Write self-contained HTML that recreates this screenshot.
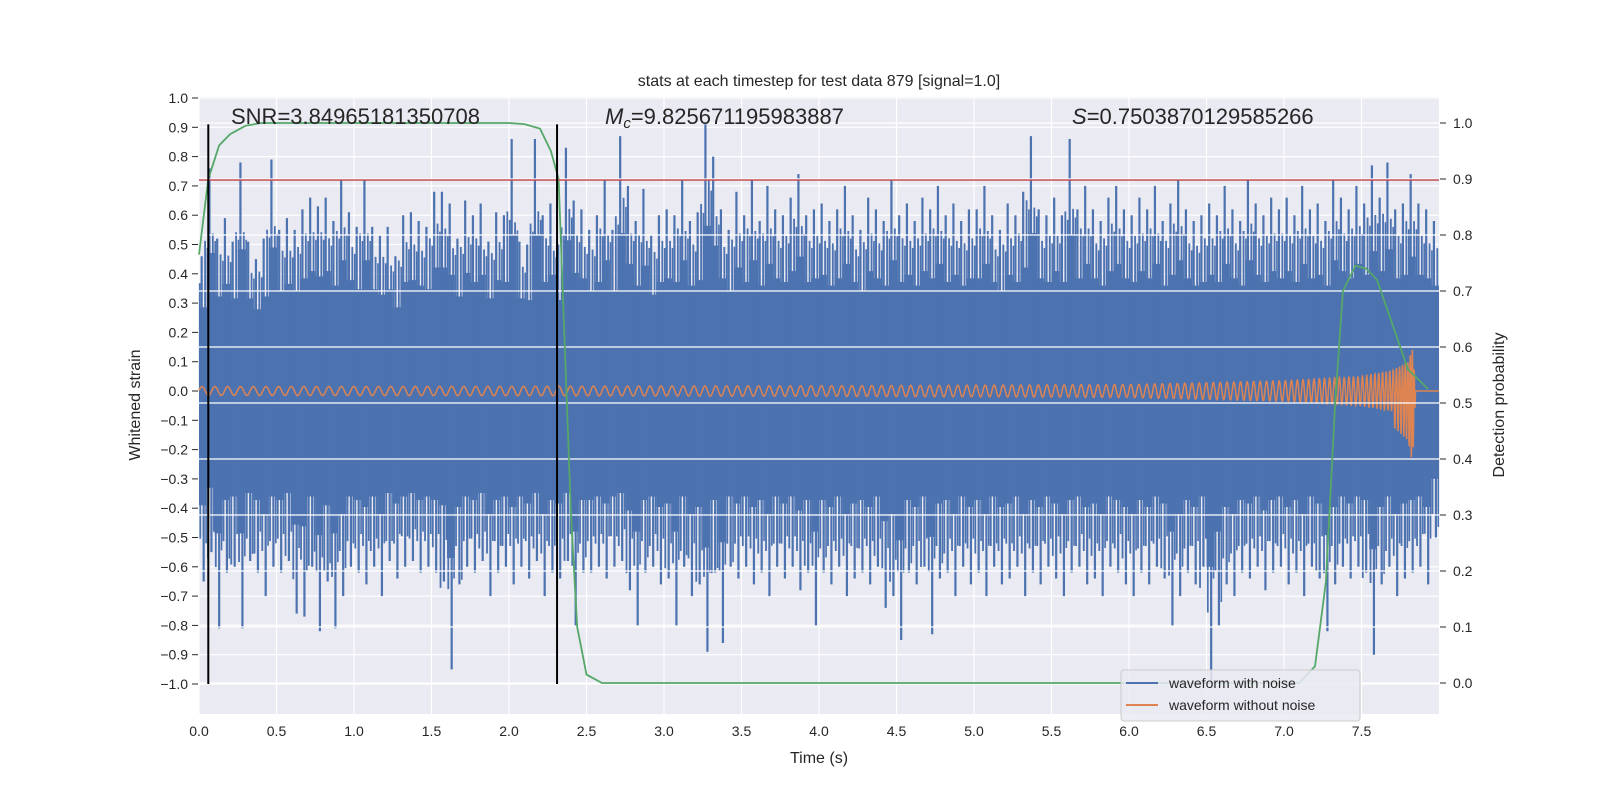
<!DOCTYPE html>
<html><head><meta charset="utf-8"><style>
body{margin:0;background:#fff;}
svg text{font-family:"Liberation Sans","DejaVu Sans",sans-serif;fill:#262626;}
</style></head><body>
<svg id="chart" width="1600" height="800" viewBox="0 0 1600 800" xmlns="http://www.w3.org/2000/svg">
<rect x="199" y="97" width="1240" height="617" fill="#eaeaf2"/>
<g id="gridL"></g><g id="gridX"></g>
<g id="blue"></g><g id="orange"></g><g id="gridR"></g>
<g id="green"></g><g id="extras"></g><g id="ticks"></g>
<text x="819" y="86" text-anchor="middle" font-size="16">stats at each timestep for test data 879 [signal=1.0]</text>
<text x="231" y="124" font-size="22">SNR=3.84965181350708</text>
<text x="605" y="124" font-size="22"><tspan font-style="italic">M</tspan><tspan font-style="italic" font-size="15" dy="4">c</tspan><tspan dy="-4">=9.825671195983887</tspan></text>
<text x="1072" y="124" font-size="22"><tspan font-style="italic">S</tspan>=0.7503870129585266</text>
<text x="819" y="763" text-anchor="middle" font-size="16">Time (s)</text>
<text transform="translate(140,405) rotate(-90)" text-anchor="middle" font-size="16">Whitened strain</text>
<text transform="translate(1504,405) rotate(-90)" text-anchor="middle" font-size="16">Detection probability</text>
<g>
<rect x="1121" y="670" width="239" height="51" rx="3" fill="#eaeaf2" fill-opacity="0.85" stroke="#cccccc"/>
<line x1="1126" y1="683" x2="1158" y2="683" stroke="#4c72b0" stroke-width="2"/>
<text x="1169" y="688" font-size="14">waveform with noise</text>
<line x1="1126" y1="705" x2="1158" y2="705" stroke="#dd8452" stroke-width="2"/>
<text x="1169" y="710" font-size="14">waveform without noise</text>
</g>
</svg>
<script>
const upperPeaks=[.46,.76,.52,.59,.51,.78,.51,.45,.52,.79, .55,.59,.55,.62,.66,.63,.66,.58,.72,.61, .56,.72,.56,.53,.56,.46,.6,.61,.58,.56, .68,.68,.64,.52,.65,.6,.64,.51,.61,.6, .86,.51,.5,.86,.6,.64,.5,.83,.65,.62, .55,.6,.72,.55,.87,.7,.58,.69,.53,.6, .62,.6,.72,.58,.61,.91,.8,.62,.55,.68, .6,.72,.58,.7,.62,.6,.66,.74,.6,.62, .64,.58,.62,.7,.6,.55,.66,.62,.58,.72, .6,.64,.58,.66,.62,.7,.6,.64,.58,.62, .62,.7,.6,.55,.64,.6,.68,.87,.62,.6, .66,.6,.86,.62,.7,.62,.58,.66,.7,.62, .6,.66,.62,.7,.58,.64,.72,.62,.58,.6, .64,.6,.7,.62,.58,.72,.64,.6,.66,.62, .66,.6,.7,.62,.64,.58,.72,.66,.62,.7, .64,.77,.66,.78,.62,.64,.74,.64,.62,.58];
const lowerPeaks=[-.65,-.55,-.81,-.62,-.6,-.81,-.58,-.62,-.7,-.6, -.62,-.58,-.76,-.77,-.6,-.82,-.65,-.81,-.7,-.6, -.62,-.66,-.6,-.7,-.58,-.64,-.6,-.58,-.62,-.6, -.62,-.65,-.95,-.66,-.6,-.62,-.58,-.7,-.62,-.6, -.66,-.6,-.64,-.58,-.7,-.62,-.64,-.58,-.8,-.62, -.62,-.6,-.64,-.6,-.58,-.68,-.8,-.62,-.6,-.66, -.64,-.8,-.6,-.7,-.66,-.89,-.62,-.86,-.6,-.64, -.6,-.66,-.62,-.7,-.6,-.64,-.6,-.68,-.62,-.8, -.62,-.66,-.6,-.7,-.64,-.62,-.66,-.6,-.74,-.7, -.85,-.62,-.66,-.6,-.83,-.64,-.62,-.7,-.6,-.66, -.62,-.7,-.6,-.66,-.64,-.6,-.7,-.62,-.66,-.6, -.64,-.7,-.62,-.6,-.66,-.64,-.7,-.6,-.62,-.66, -.7,-.62,-.66,-.6,-.64,-.8,-.7,-.62,-.66,-.6, -1.0,-.8,-.66,-.7,-.62,-.64,-.6,-.68,-.62,-.6, -.66,-.62,-.7,-.6,-.64,-.82,-.66,-.6,-.64,-.6, -.62,-.9,-.66,-.6,-.7,-.64,-.62,-.6,-.66,-.5];
const binWidth=0.05;
const chirpTimes=[0,2,4,6,7,7.5,7.7,7.8,7.83,7.85];
const chirpAmp=[0.015,0.016,0.018,0.022,0.035,0.05,0.07,0.1,0.15,0.0];
const chirpFreq=[12,13,15,19,25,35,45,60,80,90];
const probTimes=[0,0.06,0.13,0.2,0.3,0.4,2.0,2.1,2.2,2.27,2.32,2.36,2.4,2.44,2.5,2.6,7.1,7.2,7.27,7.33,7.38,7.46,7.53,7.6,7.7,7.8,7.93];
const probValues=[0.765,0.9,0.96,0.98,0.995,1.0,1.0,0.998,0.99,0.95,0.9,0.6,0.3,0.1,0.015,0.0,0.0,0.03,0.18,0.5,0.7,0.745,0.74,0.72,0.64,0.56,0.525];
const threshold=0.72;
const markerTimes=[0.06,2.31];
const xTicks=[0,0.5,1,1.5,2,2.5,3,3.5,4,4.5,5,5.5,6,6.5,7,7.5];
const yTicksL=[1,0.9,0.8,0.7,0.6,0.5,0.4,0.3,0.2,0.1,0,-0.1,-0.2,-0.3,-0.4,-0.5,-0.6,-0.7,-0.8,-0.9,-1];
const yTicksR=[1,0.9,0.8,0.7,0.6,0.5,0.4,0.3,0.2,0.1,0];

const NS='http://www.w3.org/2000/svg';
const X=t=>199+t*155;
const YL=v=>391-v*293;
const YR=p=>683-p*560;
function mk(tag,attrs,parent){const e=document.createElementNS(NS,tag);for(const k in attrs)e.setAttribute(k,attrs[k]);document.getElementById(parent).appendChild(e);return e;}
function interp(xs,ys,x){if(x<=xs[0])return ys[0];for(let i=1;i<xs.length;i++){if(x<=xs[i]){const f=(x-xs[i-1])/(xs[i]-xs[i-1]);return ys[i-1]+f*(ys[i]-ys[i-1]);}}return ys[ys.length-1];}

yTicksL.forEach(v=>{const l=mk('line',{x1:199,x2:1439,y1:YL(v),y2:YL(v),stroke:'#fff','stroke-width':1.2},'gridL');


const tk=mk('line',{x1:192,x2:198,y1:YL(v),y2:YL(v),stroke:'#262626','stroke-width':1},'ticks');


const t=mk('text',{x:188,y:YL(v)+5,'text-anchor':'end','font-size':14},'ticks');t.textContent=(v<0?'\u2212':'')+Math.abs(v).toFixed(1);

});
xTicks.forEach(v=>{const l=mk('line',{x1:X(v),x2:X(v),y1:97,y2:714,stroke:'#fff','stroke-width':1.2},'gridX');


const t=mk('text',{x:X(v),y:736,'text-anchor':'middle','font-size':14},'ticks');t.textContent=v.toFixed(1);

});
yTicksR.forEach(p=>{const l=mk('line',{x1:199,x2:1439,y1:YR(p),y2:YR(p),stroke:'#fff','stroke-width':1.2},'gridR');


const tk=mk('line',{x1:1440,x2:1446,y1:YR(p),y2:YR(p),stroke:'#262626','stroke-width':1},'ticks');


const t=mk('text',{x:1453,y:YR(p)+5,'font-size':14},'ticks');t.textContent=p.toFixed(1);

});

// noisy waveform: core band + per-bin peaks
const n=upperPeaks.length;
let up='',lo='';
upperPeaks.forEach((u,i)=>{const x0=X(i*binWidth),x1=X((i+1)*binWidth);up+=`L${x0},${YL(u*0.62)}L${x1},${YL(u*0.62)}`;});
for(let i=lowerPeaks.length-1;i>=0;i--){const x0=X(i*binWidth),x1=X((i+1)*binWidth);lo+=`L${x1},${YL(lowerPeaks[i]*0.6)}L${x0},${YL(lowerPeaks[i]*0.6)}`;}
const core=mk('path',{d:'M'+up.slice(1)+lo+'Z',fill:'#4c72b0'},'blue');


upperPeaks.forEach((u,i)=>{const xc=X((i+0.5)*binWidth);
const un=upperPeaks[Math.min(i+1,n-1)], up2=upperPeaks[Math.max(i-1,0)];
const l=lowerPeaks[i], ln=lowerPeaks[Math.min(i+1,n-1)], lp=lowerPeaks[Math.max(i-1,0)];
const segs=[[-1.2,u,2.2],[2.2,(u+un)*0.42,1.8],[-3.2,(u+up2)*0.4,1.6],[0.8,l,2.2],[-2.6,(l+ln)*0.42,1.8],[3.2,(l+lp)*0.4,1.6]];
segs.forEach((s,k)=>{const ln_=mk('line',{x1:xc+s[0],x2:xc+s[0],y1:YL(0),y2:YL(s[1]),stroke:'#4c72b0','stroke-width':s[2]},'blue');

});});

// clean chirp
let ph=0,pts=[],dt=0.0015,tEnd=chirpTimes[chirpTimes.length-1];
for(let t=0;t<=8;t+=dt){let v=0;if(t<tEnd){ph+=2*Math.PI*interp(chirpTimes,chirpFreq,t)*dt;const a=interp(chirpTimes,chirpAmp,t);v=a*Math.sin(ph);if(t>7.7&&v<0)v*=1.7;}pts.push(X(t).toFixed(1)+','+YL(v).toFixed(1));}
const oc=mk('polyline',{points:pts.join(' '),fill:'none',stroke:'#dd8452','stroke-width':1.5},'orange');



const thr=mk('line',{x1:199,x2:1439,y1:YL(threshold),y2:YL(threshold),stroke:'#c44e52','stroke-width':1.5},'extras');


markerTimes.forEach(t=>{const m=mk('line',{x1:X(t),x2:X(t),y1:YL(-1),y2:YL(0.91),stroke:'#000','stroke-width':2},'extras');

});

const gp=probTimes.map((t,i)=>X(t)+','+YR(probValues[i])).join(' ');
const g=mk('polyline',{points:gp,fill:'none',stroke:'#55a868','stroke-width':1.8},'green');


</script>
</body></html>
